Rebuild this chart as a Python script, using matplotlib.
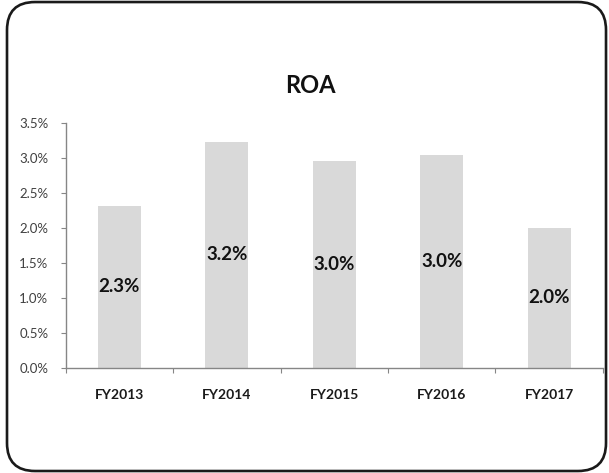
import matplotlib
matplotlib.use("Agg")
import matplotlib.pyplot as plt
from matplotlib.patches import FancyBboxPatch
from matplotlib.ticker import FuncFormatter, MultipleLocator

years = ["FY2013", "FY2014", "FY2015", "FY2016", "FY2017"]
roa = [2.32, 3.23, 2.96, 3.04, 2.00]
title = "ROA"

plt.rcParams["font.family"] = ["Lato", "DejaVu Sans"]

W, H = 6.09, 4.73
fig = plt.figure(figsize=(W, H), dpi=100)

# rounded outer frame (aspect-corrected so the corners are circular)
frame = FancyBboxPatch((0.0115, 0.0042), 0.9836, 0.9915,
                       boxstyle="round,pad=0,rounding_size=0.046",
                       mutation_aspect=W / H,
                       transform=fig.transFigure, fill=False,
                       edgecolor="#1a1a1a", linewidth=1.9)
fig.patches.append(frame)

ax = fig.add_axes([0.1079, 0.222, 0.882, 0.518])
x = range(len(years))
ax.bar(x, roa, width=0.4, color="#d9d9d9", edgecolor="none")

for xi, v in zip(x, roa):
    ax.text(xi, v / 2, f"{v:.1f}%", ha="center", va="center",
            fontsize=13.5, fontweight="bold", color="#111111")

ax.set_xlim(-0.5, len(years) - 0.5)
ax.set_ylim(0, 3.5)
ax.yaxis.set_major_locator(MultipleLocator(0.5))
ax.yaxis.set_major_formatter(FuncFormatter(lambda v, p: f"{v:.1f}%"))

ax.set_xticks([i + 0.5 for i in range(-1, len(years))], minor=False)
ax.set_xticklabels([])
ax.set_xticks(list(x), minor=True)
ax.set_xticklabels(years, minor=True, fontsize=10, fontweight="bold", color="#1a1a1a")
ax.tick_params(axis="x", which="minor", length=0, pad=15)
ax.tick_params(axis="x", which="major", length=3.5, color="#868686", direction="out")
ax.tick_params(axis="y", length=3.5, color="#868686", labelsize=9.5,
               labelcolor="#404040", pad=9)

for side in ("top", "right"):
    ax.spines[side].set_visible(False)
for side in ("left", "bottom"):
    ax.spines[side].set_color("#868686")
    ax.spines[side].set_linewidth(1.0)

fig.text(0.51, 0.82, title, ha="center", va="center",
         fontsize=17, fontweight="bold", color="#111111")

fig.savefig("out.png", dpi=100)
